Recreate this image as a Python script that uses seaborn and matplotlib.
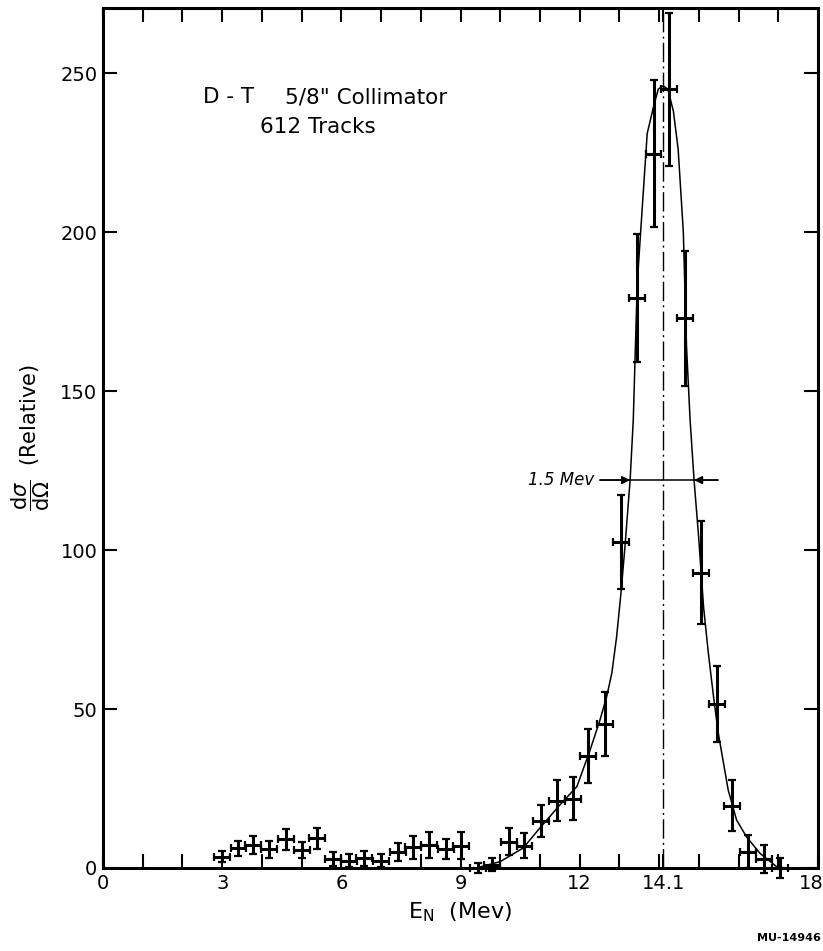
import matplotlib
matplotlib.use("Agg")
import matplotlib.pyplot as plt
from matplotlib.transforms import ScaledTranslation
import seaborn as sns
import pandas as pd

# ---- data ----
energy = [2.99, 3.41, 3.78, 4.18, 4.61, 5.00, 5.39, 5.80, 6.19, 6.58, 6.99, 7.42,
          7.81, 8.20, 8.63, 9.01, 9.45, 9.79, 10.23, 10.61, 11.03, 11.42, 11.84,
          12.22, 12.64, 13.04, 13.45, 13.86, 14.26, 14.65, 15.05, 15.45, 15.84,
          16.23, 16.64, 17.04]
cross = [3.6, 6.2, 7.2, 5.9, 9.0, 5.7, 9.3, 2.8, 2.3, 3.0, 2.3, 5.1,
         6.5, 7.2, 6.0, 7.0, 0.0, 1.0, 8.3, 7.0, 14.8, 21.2, 21.8,
         35.2, 45.2, 102.6, 179.3, 224.7, 244.9, 172.9, 92.9, 51.6, 19.6,
         5.1, 2.7, 0.0]
cross_err = [1.7, 2.4, 2.9, 2.7, 3.2, 2.5, 3.3, 2.1, 2.1, 2.4, 2.1, 2.9,
             3.7, 4.0, 3.1, 4.2, 1.6, 2.1, 4.2, 4.0, 5.0, 6.5, 6.8,
             8.6, 10.0, 14.8, 20.0, 23.1, 24.0, 21.2, 16.1, 12.0, 8.1,
             5.2, 4.4, 3.0]
energy_halfwidth = 0.2

curve_x = [9.4, 10.0, 10.58, 11.0, 11.5, 11.93, 12.26, 12.51, 12.68, 12.81, 12.93,
           13.04, 13.14, 13.27, 13.35, 13.45, 13.7, 13.87, 13.98, 14.1, 14.22,
           14.36, 14.48, 14.61, 14.69, 14.78, 14.88, 14.99, 15.12, 15.24, 15.37,
           15.49, 15.74, 15.95, 16.2, 16.54, 16.96, 17.2]
curve_y = [0, 2, 6.3, 12.6, 19.8, 25.6, 37, 46.5, 53.9, 61.3, 72.7,
           86.5, 101, 122, 141, 184, 231, 240, 245, 246, 245,
           238, 226, 200, 164, 141, 122, 105, 82, 67.6, 53.9,
           42.4, 24.5, 15.1, 9.8, 4.6, 0.4, 0]

peak_energy = 14.1
fwhm_y = 122
fwhm_left, fwhm_right = 13.27, 14.88
fwhm_line = (12.51, 15.48)

x_tick_labels = {0: "0", 3: "3", 6: "6", 9: "9", 12: "12", 18: "18"}
y_ticks = [0, 50, 100, 150, 200, 250]

# ---- figure ----
sns.set_style("ticks", {"text.color": "black", "axes.edgecolor": "black",
                        "xtick.color": "black", "ytick.color": "black",
                        "axes.labelcolor": "black"})
plt.rcParams["font.family"] = ["DejaVu Sans"]
fig = plt.figure(figsize=(8.23, 9.51), dpi=100)
ax = fig.add_axes([0.1252, 0.0873, 0.8687, 0.9043])

points = pd.DataFrame({"E": energy, "sigma": cross, "err": cross_err})
curve = pd.DataFrame({"E": curve_x, "sigma": curve_y})

sns.lineplot(data=curve, x="E", y="sigma", sort=False, color="black", lw=1.1, ax=ax,
             estimator=None)

ax.errorbar(points["E"], points["sigma"], yerr=points["err"], xerr=energy_halfwidth,
            fmt="none", ecolor="black", elinewidth=2.2, capsize=3.2, capthick=1.6,
            clip_on=False, zorder=3)

ax.axvline(peak_energy, color="black", lw=1.0, ls=(0, (14, 3, 1.5, 3)), zorder=1)

# FWHM arrows
ax.plot(list(fwhm_line), [fwhm_y, fwhm_y], color="black", lw=1.1)
ax.annotate("", xy=(fwhm_left, fwhm_y), xytext=(fwhm_line[0], fwhm_y),
            arrowprops=dict(arrowstyle="-|>", color="black", lw=1.1,
                            mutation_scale=12, shrinkA=0, shrinkB=0))
ax.annotate("", xy=(fwhm_right, fwhm_y), xytext=(fwhm_line[1], fwhm_y),
            arrowprops=dict(arrowstyle="-|>", color="black", lw=1.1,
                            mutation_scale=12, shrinkA=0, shrinkB=0))
ax.text(12.36, fwhm_y, "1.5 Mev", ha="right", va="center", fontsize=12,
        style="italic")

ax.text(2.52, 242.5, "D - T", ha="left", va="center", fontsize=15.5)
ax.text(4.58, 242.5, "5/8\" Collimator", ha="left", va="center", fontsize=15.5)
ax.text(3.94, 233, "612 Tracks", ha="left", va="center", fontsize=15.5)

ax.set_xlim(0, 18)
ax.set_ylim(0, 270.5)

xt = list(range(0, 19)) + [peak_energy]
xl = [x_tick_labels.get(t, "") for t in range(0, 19)] + ["14.1"]
ax.set_xticks(xt)
ax.set_xticklabels(xl)
ax.set_yticks(y_ticks)
ax.set_yticklabels([str(v) for v in y_ticks])

ax.tick_params(axis="both", which="major", direction="in", length=10, width=1.5,
               top=True, right=True, labelsize=14, pad=4, colors="black")
for s in ax.spines.values():
    s.set_linewidth(2.2)
    s.set_color("black")
    s.set_visible(True)

# keep the "18" label inside the figure
for lbl in ax.get_xticklabels():
    if lbl.get_text() == "18":
        lbl.set_transform(lbl.get_transform() +
                          ScaledTranslation(-5 / 72, 0, fig.dpi_scale_trans))

ax.set_xlabel(r"E$_\mathrm{N}$  (Mev)", fontsize=16, labelpad=6)
ax.set_ylabel(r"$\dfrac{\mathrm{d}\sigma}{\mathrm{d}\Omega}$  (Relative)", fontsize=15,
              labelpad=6)

fig.text(0.997, 0.008, "MU-14946", ha="right", va="bottom", fontsize=8,
         fontweight="bold")

fig.savefig("out.png", dpi=100)
